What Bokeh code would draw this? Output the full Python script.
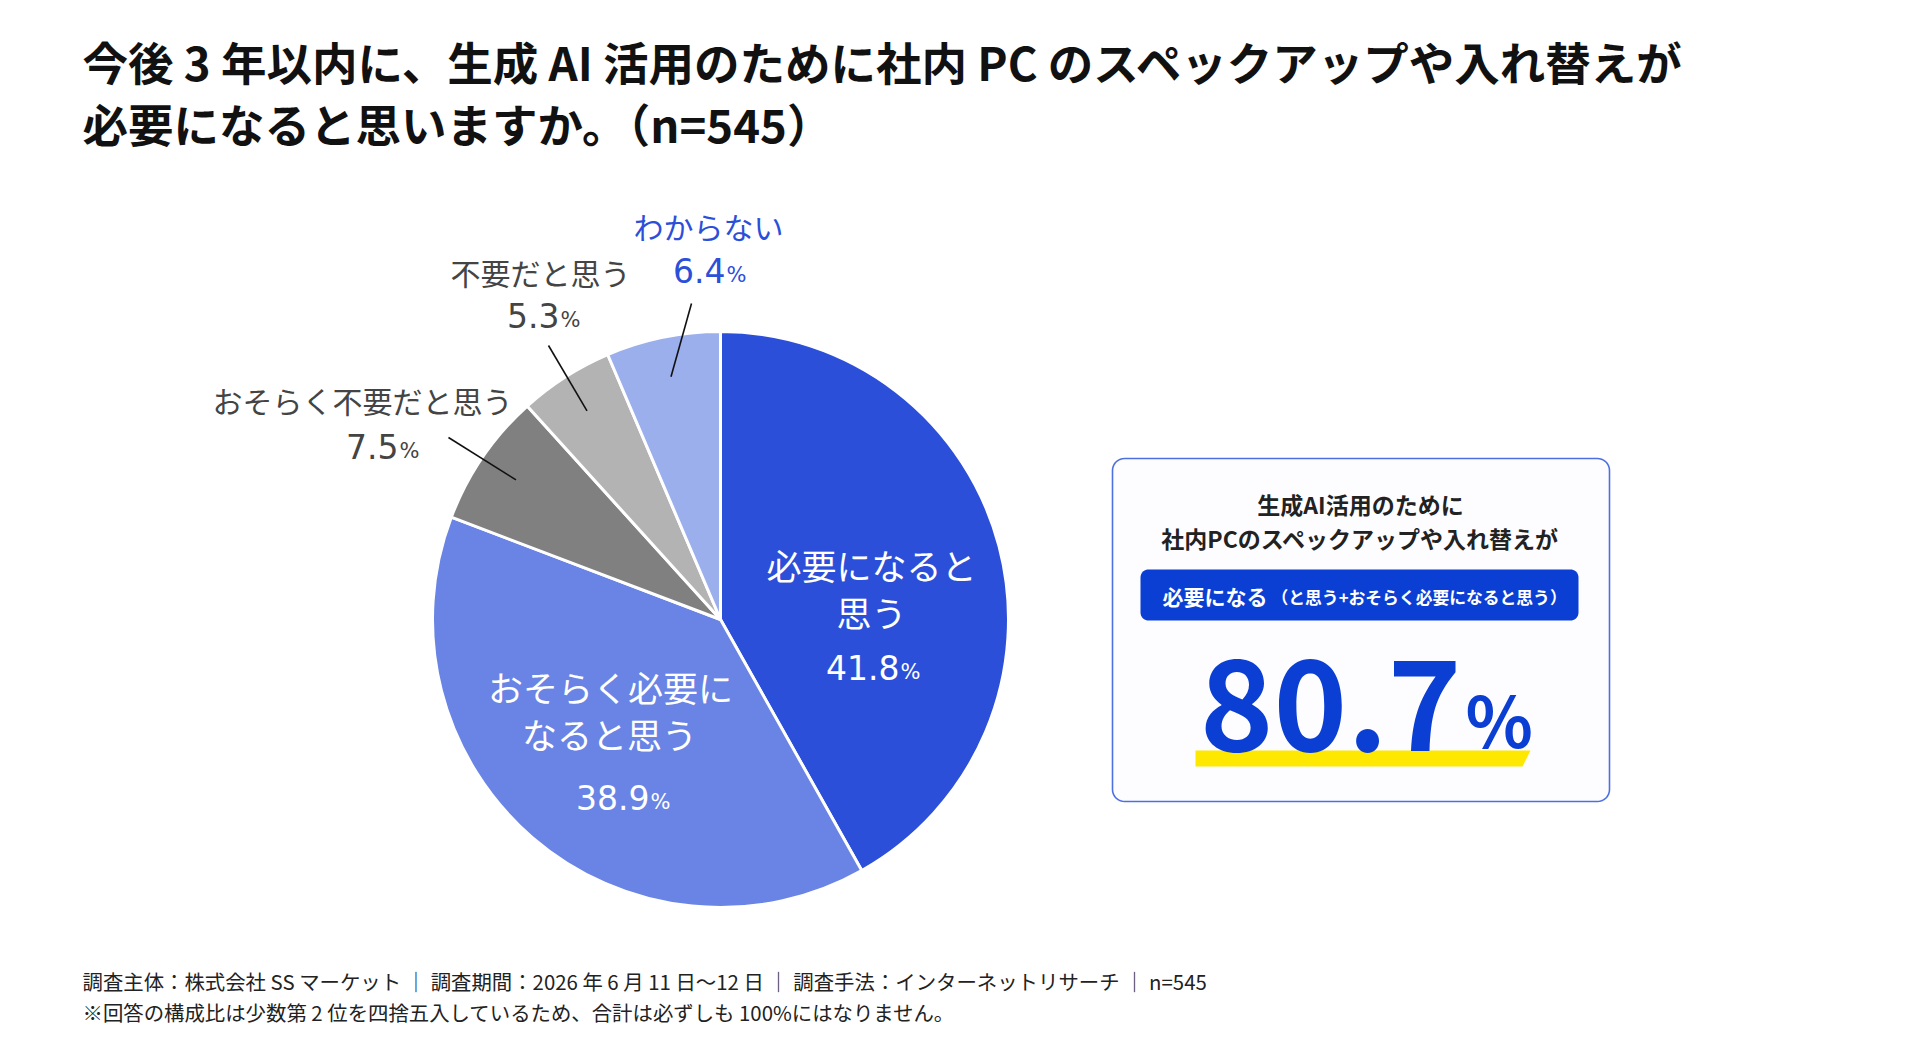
import numpy as np
from bokeh.plotting import figure
from bokeh.models import Range1d, ColumnDataSource
from bokeh.core.properties import value
from bokeh.embed import file_html
from bokeh.resources import INLINE

W, H = 1921, 1063
FONT = "Noto Sans CJK JP"
NUM_FONT = "DejaVu Sans"

# ---- content -------------------------------------------------------------
title_lines = [
    "今後 3 年以内に、生成 AI 活用のために社内 PC のスペックアップや入れ替えが",
    "必要になると思いますか。（n=545）",
]
categories = ["必要になると思う", "おそらく必要になると思う", "おそらく不要だと思う", "不要だと思う", "わからない"]
shares = [41.8, 38.9, 7.5, 5.3, 6.4]
slice_colors = ["#2b4fd9", "#6984e5", "#808080", "#b3b3b3", "#9cafed"]
inside_label_lines = [["必要になると", "思う"], ["おそらく必要に", "なると思う"]]
outside_label_text = ["おそらく不要だと思う", "不要だと思う", "わからない"]
summary_heading = ["生成AI活用のために", "社内PCのスペックアップや入れ替えが"]
summary_badge = ["必要になる", "（と思う+おそらく必要になると思う）"]
footnotes = [
    "調査主体：株式会社 SS マーケット ｜ 調査期間：2026 年 6 月 11 日～12 日 ｜ 調査手法：インターネットリサーチ ｜ n=545",
    "※回答の構成比は少数第 2 位を四捨五入しているため、合計は必ずしも 100%にはなりません。",
]

# "needed" total = first two answers
combined_share = round(shares[0] + shares[1], 1)


def Y(py):
    """Convert a top-down page position to the plot's upward y."""
    return H - py


p = figure(width=W, height=H, x_range=Range1d(0, W), y_range=Range1d(0, H),
           output_backend="svg", toolbar_location=None,
           x_axis_location=None, y_axis_location=None, min_border=0,
           outline_line_color=None, background_fill_color="white",
           border_fill_color="white")
p.grid.visible = False


def txt(x, y, s, size, color, bold=False, align="left", font=FONT):
    p.text(x=[x], y=[Y(y)], text=[s], text_font=value(font),
           text_font_size=f"{size}px", text_color=color,
           text_font_style="bold" if bold else "normal",
           text_align=align, text_baseline="middle")


def pct(xsplit, mid_y, v, size, color):
    # number and a smaller "%" sharing the same baseline
    base = mid_y + 0.365 * size
    small = round(size * 0.63)
    txt(xsplit, mid_y, f"{v:.1f}", size, color, align="right", font=NUM_FONT)
    txt(xsplit + 1, base - 0.36 * small, "%", small, color, align="left", font=NUM_FONT)


def rrect(x0, y0, x1, y1, r, n=10):
    xs, ys = [], []
    corners = [(x1 - r, y0 + r, -np.pi / 2, 0), (x1 - r, y1 - r, 0, np.pi / 2),
               (x0 + r, y1 - r, np.pi / 2, np.pi), (x0 + r, y0 + r, np.pi, 1.5 * np.pi)]
    for cx, cy, a0, a1 in corners:
        t = np.linspace(a0, a1, n)
        xs.extend(cx + r * np.cos(t))
        ys.extend(Y(cy + r * np.sin(t)))
    return xs, ys


# ---- title -----------------------------------------------------------------
txt(82, 60, title_lines[0], 45.5, "#111111", bold=True)
txt(82, 122, title_lines[1], 45.5, "#111111", bold=True)

# ---- pie -------------------------------------------------------------------
CX, CY, R = 720, 619, 288
total = sum(shares)
frac = np.cumsum([0.0] + shares) / total
start = np.pi / 2 - 2 * np.pi * frac[1:]
end = np.pi / 2 - 2 * np.pi * frac[:-1]
src = ColumnDataSource(dict(start=start, end=end, color=slice_colors, cat=categories))
p.wedge(x=CX, y=Y(CY), radius=R, start_angle="start", end_angle="end",
        fill_color="color", line_color="white", line_width=3, source=src)

# labels inside the two large slices
inside_pos = [((871, 564), (871, 611), (899, 667)),
              ((610, 686), (609, 733), (649, 797))]
for i, (l1, l2, pc) in enumerate(inside_pos):
    txt(l1[0], l1[1], inside_label_lines[i][0], 35, "white", align="center")
    txt(l2[0], l2[1], inside_label_lines[i][1], 35, "white", align="center")
    pct(pc[0], pc[1], shares[i], 33, "white")

# labels outside the three small slices, with leader lines
outside_pos = [((362, 399), (398, 446), (448, 437)),
               ((540, 271), (559, 315), (548, 345)),
               ((708, 225), (725, 270), (691, 303))]
outside_colors = ["#444444", "#444444", "#2b4fd9"]
mid = (start + end) / 2
lx0, ly0, lx1, ly1 = [], [], [], []
for k, (lab, pc, lead) in enumerate(outside_pos):
    i = k + 2
    txt(lab[0], lab[1], outside_label_text[k], 30, outside_colors[k], align="center")
    pct(pc[0], pc[1], shares[i], 33, outside_colors[k])
    lx0.append(lead[0])
    ly0.append(Y(lead[1]))
    lx1.append(CX + 0.86 * R * np.cos(mid[i]))
    ly1.append(Y(CY) + 0.86 * R * np.sin(mid[i]))
p.segment(x0=lx0, y0=ly0, x1=lx1, y1=ly1, line_color="#111111", line_width=1.6)

# ---- summary card ------------------------------------------------------------
bx, by = rrect(1112, 458, 1609, 801, 12)
p.patch(bx, by, fill_color="#fdfdff", line_color="#4d70e0", line_width=1.6)
txt(1360, 503, summary_heading[0], 23, "#222222", bold=True, align="center")
txt(1360, 537, summary_heading[1], 23, "#222222", bold=True, align="center")

qx, qy = rrect(1140, 569, 1578, 620, 8)
p.patch(qx, qy, fill_color="#0b3fd4", line_color=None)
txt(1162, 595, summary_badge[0], 21, "white", bold=True)
txt(1271, 596, summary_badge[1], 16.8, "white", bold=True)

# yellow underline behind the headline figure
p.patch([1195, 1530, 1522, 1195], [Y(750), Y(750), Y(766), Y(766)],
        fill_color="#ffe800", line_color=None)
txt(1461, 704, f"{combined_share:.1f}", 125, "#0b3fd4", bold=True, align="right")
txt(1465, 717, "%", 70, "#0b3fd4", bold=True)

# ---- footnotes -------------------------------------------------------------
txt(82, 980, footnotes[0], 20.4, "#222222")
txt(82, 1011, footnotes[1], 20.4, "#222222")

open("out.html", "w").write(file_html(p, INLINE))
